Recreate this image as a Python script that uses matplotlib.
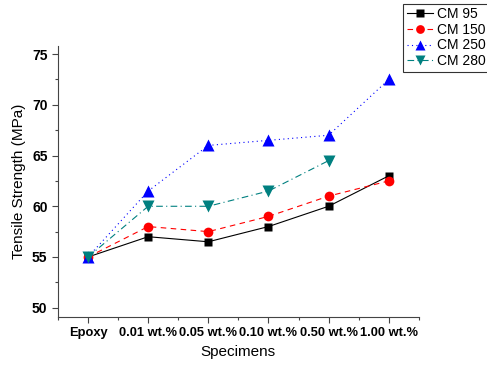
import numpy as np
import matplotlib
matplotlib.use('Agg')
import matplotlib.pyplot as plt
from matplotlib.ticker import MultipleLocator

plt.rcParams['font.family'] = ['Liberation Sans', 'DejaVu Sans']

specimens = ['Epoxy', '0.01 wt.%', '0.05 wt.%', '0.10 wt.%', '0.50 wt.%', '1.00 wt.%']
cm95 = [55, 57, 56.5, 58, 60, 63]
cm150 = [55, 58, 57.5, 59, 61, 62.5]
cm250 = [55, 61.5, 66, 66.5, 67, 72.5]
cm280 = [55, 60, 60, 61.5, 64.5]

x = np.arange(len(specimens))

fig = plt.figure(figsize=(4.87, 3.68), dpi=100)
ax = fig.add_axes([0.119, 0.139, 0.741, 0.736])

ax.plot(x, cm95, color='k', lw=0.8, ls='-', marker='s', ms=6, mec='none', label='CM 95')
ax.plot(x, cm150, color='red', lw=0.8, ls=(0, (5, 4)), marker='o', ms=7, mec='none', label='CM 150')
ax.plot(x, cm250, color='blue', lw=0.8, ls=(0, (1, 3)), marker='^', ms=8, mec='none', label='CM 250')
ax.plot(x[:len(cm280)], cm280, color='#008080', lw=0.8, ls=(0, (6, 3, 1, 3)), marker='v', ms=8,
        mec='none', label='CM 280')

ax.set_xlim(-0.5, 5.5)
ax.set_ylim(49.1, 75.8)
ax.set_xticks(x)
ax.set_xticklabels(specimens, fontweight='bold', fontsize=9.3)
ax.xaxis.set_minor_locator(MultipleLocator(0.5))
ax.yaxis.set_major_locator(MultipleLocator(5))
ax.yaxis.set_minor_locator(MultipleLocator(2.5))
for lab in ax.get_yticklabels():
    lab.set_fontweight('bold')
    lab.set_fontsize(10)
ax.tick_params(which='major', length=4, width=0.8, color='#444444')
ax.tick_params(which='minor', length=2.5, width=0.8, color='#444444')

ax.spines['top'].set_visible(False)
ax.spines['right'].set_visible(False)
ax.spines['left'].set_color('#444444')
ax.spines['bottom'].set_color('#444444')

ax.set_xlabel('Specimens', fontsize=11)
ax.set_ylabel('Tensile Strength (MPa)', fontsize=11)

leg = fig.legend(loc='upper left', bbox_to_anchor=(0.828, 0.99), fontsize=10, frameon=True,
                 fancybox=False, edgecolor='k', handlelength=1.9, borderpad=0.25,
                 labelspacing=0.12, handletextpad=0.3, borderaxespad=0, markerscale=0.9)
leg.get_frame().set_linewidth(0.8)

fig.savefig('out.png', dpi=100)
